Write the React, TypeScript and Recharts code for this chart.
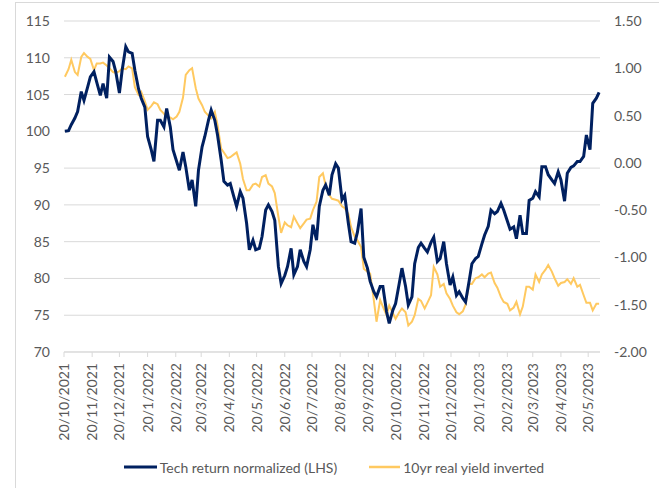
import { CartesianGrid, Legend, Line, LineChart, XAxis, YAxis } from "recharts";

const dates = [
  "2021-10-21", "2021-10-25", "2021-10-28",
  "2021-11-01", "2021-11-04", "2021-11-08", "2021-11-11", "2021-11-15", "2021-11-18", "2021-11-22", "2021-11-25", "2021-11-29",
  "2021-12-02", "2021-12-06", "2021-12-09", "2021-12-13", "2021-12-16", "2021-12-20", "2021-12-23", "2021-12-27", "2021-12-30",
  "2022-01-03", "2022-01-06", "2022-01-10", "2022-01-13", "2022-01-17", "2022-01-20", "2022-01-24", "2022-01-27", "2022-01-31",
  "2022-02-03", "2022-02-07", "2022-02-10", "2022-02-14", "2022-02-17", "2022-02-21", "2022-02-24", "2022-02-28",
  "2022-03-03", "2022-03-07", "2022-03-10", "2022-03-14", "2022-03-17", "2022-03-21", "2022-03-24", "2022-03-28", "2022-03-31",
  "2022-04-04", "2022-04-07", "2022-04-11", "2022-04-14", "2022-04-18", "2022-04-21", "2022-04-25", "2022-04-28",
  "2022-05-02", "2022-05-05", "2022-05-09", "2022-05-12", "2022-05-16", "2022-05-19", "2022-05-23", "2022-05-26", "2022-05-30",
  "2022-06-02", "2022-06-06", "2022-06-09", "2022-06-13", "2022-06-16", "2022-06-20", "2022-06-23", "2022-06-27", "2022-06-30",
  "2022-07-04", "2022-07-07", "2022-07-11", "2022-07-14", "2022-07-18", "2022-07-21", "2022-07-25", "2022-07-28",
  "2022-08-01", "2022-08-04", "2022-08-08", "2022-08-11", "2022-08-15", "2022-08-18", "2022-08-22", "2022-08-25", "2022-08-29",
  "2022-09-01", "2022-09-05", "2022-09-08", "2022-09-12", "2022-09-15", "2022-09-19", "2022-09-22", "2022-09-26", "2022-09-29",
  "2022-10-03", "2022-10-06", "2022-10-10", "2022-10-13", "2022-10-17", "2022-10-20", "2022-10-24", "2022-10-27", "2022-10-31",
  "2022-11-03", "2022-11-07", "2022-11-10", "2022-11-14", "2022-11-17", "2022-11-21", "2022-11-24", "2022-11-28",
  "2022-12-01", "2022-12-05", "2022-12-08", "2022-12-12", "2022-12-15", "2022-12-19", "2022-12-22", "2022-12-26", "2022-12-29",
  "2023-01-02", "2023-01-05", "2023-01-09", "2023-01-12", "2023-01-16", "2023-01-19", "2023-01-23", "2023-01-26", "2023-01-30",
  "2023-02-02", "2023-02-06", "2023-02-09", "2023-02-13", "2023-02-16", "2023-02-20", "2023-02-23", "2023-02-27",
  "2023-03-02", "2023-03-06", "2023-03-09", "2023-03-13", "2023-03-16", "2023-03-20", "2023-03-23", "2023-03-27", "2023-03-30",
  "2023-04-03", "2023-04-06", "2023-04-10", "2023-04-13", "2023-04-17", "2023-04-20", "2023-04-24", "2023-04-27",
  "2023-05-01", "2023-05-04", "2023-05-08", "2023-05-11", "2023-05-15", "2023-05-18", "2023-05-22", "2023-05-25", "2023-05-29",
  "2023-06-01",
];

// tech index, LHS
const tech = [
  100.0, 100.1, 100.9, 101.8, 102.7, 105.4, 104.2, 106.0, 107.4, 108.1, 106.7, 104.9,
  106.5, 104.5, 110.1, 109.5, 108.1, 105.2, 108.3, 111.5, 110.8,
  110.6, 108.3, 105.8, 104.5, 103.3, 99.3, 97.5, 95.9, 101.5,
  101.5, 100.6, 103.1, 100.6, 97.5, 95.9, 94.7, 97.2,
  95.2, 92.0, 93.4, 89.8, 94.7, 97.9, 99.3, 101.5, 102.9,
  101.5, 99.5, 96.1, 93.2, 92.7, 92.9, 91.1, 89.8,
  91.8, 90.9, 87.5, 83.9, 85.2, 83.9, 84.1, 85.7, 89.3,
  90.0, 89.1, 87.9, 81.6, 79.3, 80.4, 81.6, 84.1, 80.5,
  81.6, 83.9, 82.3, 81.6, 83.9, 87.3, 85.2, 89.8,
  92.0, 92.7, 91.3, 94.1, 95.6, 95.0, 90.7, 91.3, 87.5,
  85.0, 84.8, 86.3, 89.5, 82.9, 81.4, 79.6, 78.2, 77.5,
  78.9, 78.9, 75.5, 73.9, 75.7, 76.6, 79.3, 81.4, 78.9,
  76.4, 77.5, 82.0, 84.2, 84.8, 84.1, 83.6, 84.9,
  85.6, 82.3, 82.7, 85.0, 82.0, 79.1, 80.2, 77.7, 78.2,
  77.3, 76.8, 79.7, 82.0, 82.7, 83.0, 84.7, 85.9, 87.1,
  89.3, 88.8, 89.1, 90.2, 89.3, 87.8, 86.7, 87.0,
  85.4, 88.6, 86.1, 86.1, 90.6, 90.9, 91.8, 91.1, 95.2,
  95.2, 94.1, 93.4, 92.9, 94.5, 93.4, 90.5, 94.3,
  95.1, 95.3, 95.9, 95.9, 96.6, 99.5, 97.5, 103.8, 104.5,
  105.3,
];

// 10yr real yield inverted, RHS
const realYield = [
  0.91, 0.99, 1.09, 0.96, 0.93, 1.12, 1.16, 1.12, 1.1, 0.98, 1.05, 1.05,
  1.06, 1.03, 1.0, 0.96, 0.95, 0.97, 1.0, 0.99, 1.02,
  1.0, 0.8, 0.72, 0.75, 0.65, 0.56, 0.6, 0.64, 0.62,
  0.56, 0.52, 0.48, 0.48, 0.46, 0.49, 0.54, 0.69,
  0.93, 0.98, 1.0, 0.79, 0.68, 0.61, 0.54, 0.5, 0.47,
  0.54, 0.4, 0.15, 0.11, 0.05, 0.06, 0.09, 0.11,
  -0.01, -0.17, -0.29, -0.29, -0.23, -0.22, -0.25, -0.15, -0.13,
  -0.22, -0.25, -0.32, -0.57, -0.74, -0.63, -0.66, -0.68, -0.57,
  -0.64, -0.69, -0.64, -0.6, -0.59, -0.5, -0.41, -0.15,
  -0.11, -0.24, -0.34, -0.38, -0.39, -0.4, -0.46, -0.48, -0.54,
  -0.68, -0.78, -0.82, -0.89, -1.12, -1.15, -1.17, -1.45, -1.68,
  -1.45, -1.52, -1.61, -1.51, -1.59, -1.65, -1.58, -1.54, -1.58,
  -1.72, -1.68, -1.61, -1.44, -1.46, -1.54, -1.48, -1.4,
  -1.1, -1.18, -1.31, -1.28, -1.38, -1.44, -1.51, -1.58, -1.6,
  -1.57, -1.5, -1.28, -1.28, -1.22, -1.21, -1.18, -1.21, -1.17,
  -1.16, -1.27, -1.32, -1.42, -1.47, -1.49, -1.56, -1.53,
  -1.47, -1.6, -1.52, -1.31, -1.31, -1.34, -1.18, -1.26, -1.18,
  -1.13, -1.08, -1.15, -1.22, -1.3, -1.27, -1.26, -1.23,
  -1.28, -1.22, -1.31, -1.29, -1.4, -1.48, -1.48, -1.56, -1.49,
  -1.49,
];

const tickDates = [
  "2021-10-20", "2021-11-20", "2021-12-20", "2022-01-20", "2022-02-20", "2022-03-20", "2022-04-20",
  "2022-05-20", "2022-06-20", "2022-07-20", "2022-08-20", "2022-09-20", "2022-10-20", "2022-11-20",
  "2022-12-20", "2023-01-20", "2023-02-20", "2023-03-20", "2023-04-20", "2023-05-20",
];

const leftTicks = [70, 75, 80, 85, 90, 95, 100, 105, 110, 115];
const rightTicks = [-2, -1.5, -1, -0.5, 0, 0.5, 1, 1.5];

const NAVY = "#002060";
const GOLD = "#FFC960";
const GREY = "#595959";
const FONT = "Lato, 'Liberation Sans', sans-serif";

const data = dates.map((d, i) => ({
  t: Date.parse(d),
  tech: tech[i],
  realYield: realYield[i],
}));

const fmtDate = (t: number) => {
  const d = new Date(t);
  return `${d.getUTCDate()}/${d.getUTCMonth() + 1}/${d.getUTCFullYear()}`;
};

function DateTick({ x, y, payload }: any) {
  const tx = x + 5;
  const ty = y + 4;
  return (
    <text
      x={tx}
      y={ty}
      transform={`rotate(-90, ${tx}, ${ty})`}
      textAnchor="end"
      fill={GREY}
      fontSize={14}
      fontFamily={FONT}
    >
      {fmtDate(payload.value)}
    </text>
  );
}

function ChartLegend() {
  return (
    <div
      style={{
        display: "flex",
        justifyContent: "center",
        alignItems: "center",
        height: 24,
        paddingLeft: 9,
        color: GREY,
        fontSize: 14,
        fontFamily: FONT,
      }}
    >
      <span style={{ display: "flex", alignItems: "center" }}>
        <svg width={33} height={4}>
          <line x1={0} y1={2} x2={33} y2={2} stroke={NAVY} strokeWidth={3} />
        </svg>
        <span style={{ marginLeft: 3 }}>Tech return normalized (LHS)</span>
      </span>
      <span style={{ display: "flex", alignItems: "center", marginLeft: 32 }}>
        <svg width={31} height={4}>
          <line x1={0} y1={2} x2={31} y2={2} stroke={GOLD} strokeWidth={2.5} />
        </svg>
        <span style={{ marginLeft: 3 }}>10yr real yield inverted</span>
      </span>
    </div>
  );
}

export default function App() {
  return (
    <div style={{ position: "absolute", left: 0, top: 0, width: 659, height: 488, fontFamily: FONT, overflow: "hidden" }}>
      <div
        style={{
          position: "absolute",
          left: 15,
          top: 2,
          width: 700,
          height: 600,
          borderLeft: "1px solid #d9d9d9",
          borderTop: "1px solid #d9d9d9",
        }}
      />
      <LineChart width={659} height={488} data={data} margin={{ top: 21, right: 0, left: 0, bottom: 9 }}>
        <CartesianGrid yAxisId="left" vertical={false} stroke="#d9d9d9" />
        <XAxis
          dataKey="t"
          type="number"
          domain={[Date.parse("2021-10-20"), Date.parse("2023-06-02")]}
          ticks={tickDates.map((d) => Date.parse(d))}
          interval={0}
          height={103}
          tickSize={5}
          stroke="#d9d9d9"
          tick={<DateTick />}
        />
        <YAxis
          yAxisId="left"
          domain={[70, 115]}
          ticks={leftTicks}
          width={64}
          tickLine={false}
          axisLine={false}
          tickMargin={8}
          tick={{ fill: GREY, fontSize: 14, fontFamily: FONT }}
        />
        <YAxis
          yAxisId="right"
          orientation="right"
          domain={[-2, 1.5]}
          ticks={rightTicks}
          width={59}
          tickLine={false}
          axisLine={false}
          tickMargin={8}
          tickFormatter={(v: number) => v.toFixed(2)}
          tick={{ fill: GREY, fontSize: 14, fontFamily: FONT, textAnchor: "start" }}
        />
        <Legend verticalAlign="bottom" height={24} content={<ChartLegend />} />
        <Line
          yAxisId="right"
          dataKey="realYield"
          stroke={GOLD}
          strokeWidth={2}
          dot={false}
          isAnimationActive={false}
        />
        <Line
          yAxisId="left"
          dataKey="tech"
          stroke={NAVY}
          strokeWidth={3}
          dot={false}
          isAnimationActive={false}
        />
      </LineChart>
    </div>
  );
}
